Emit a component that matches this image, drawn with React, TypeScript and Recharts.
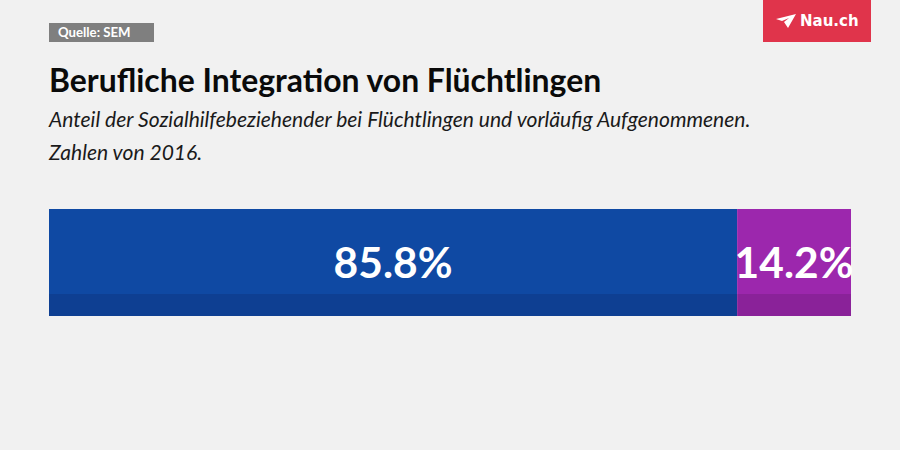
import { Bar, BarChart, LabelList, XAxis, YAxis } from 'recharts';

const categories = ['Sozialhilfe'];
const blueShare = [85.8];
const purpleShare = [14.2];

const data = categories.map((name, i) => ({ name, blue: blueShare[i], purple: purpleShare[i] }));
const fmt = (v: any) => `${v}%`;
const labelStyle = { fontFamily: 'Lato', fontWeight: 700, fontSize: 42.5, fill: '#fff' };

export default function App() {
  return (
    <div style={{ position: 'absolute', left: 0, top: 0, width: 900, height: 450, background: '#f1f1f1', fontFamily: 'Lato', overflow: 'hidden' }}>
      <div style={{ position: 'absolute', left: 49, top: 23, width: 105, height: 19, background: '#7f7f7f', color: '#fff', fontSize: 13.2, fontWeight: 700, lineHeight: '19px', paddingLeft: 9, boxSizing: 'border-box' }}>
        Quelle: SEM
      </div>
      <div style={{ position: 'absolute', left: 49, top: 61, fontSize: 31.9, fontWeight: 700, color: '#0a0a0a', lineHeight: '38px', whiteSpace: 'nowrap' }}>
        Berufliche Integration von Flüchtlingen
      </div>
      <div style={{ position: 'absolute', left: 49, top: 102, fontSize: 21.06, fontStyle: 'italic', color: '#1a1a1a', lineHeight: '33px', whiteSpace: 'nowrap' }}>
        Anteil der Sozialhilfebeziehender bei Flüchtlingen und vorläufig Aufgenommenen.
        <br />
        Zahlen von 2016.
      </div>
      <div style={{ position: 'absolute', left: 763, top: 0, width: 108, height: 42, background: '#e0344b' }}>
        <svg width={20} height={14} style={{ position: 'absolute', left: 13, top: 14 }} viewBox="0 0 20 14">
          <path d="M0 5 L20 0 L12 14 L8 8 L13 4 L6 7 Z" fill="#fff" />
        </svg>
        <span style={{ position: 'absolute', left: 37, top: 11, fontFamily: 'DejaVu Sans', fontWeight: 700, fontSize: 15, lineHeight: '20px', color: '#fff' }}>Nau.ch</span>
      </div>
      <BarChart
        width={900}
        height={450}
        data={data}
        layout="vertical"
        barCategoryGap={0}
        margin={{ left: 49, right: 49, top: 209, bottom: 134 }}
        style={{ position: 'absolute', left: 0, top: 0 }}
      >
        <defs>
          <linearGradient id="blueFill" x1="0" y1="0" x2="0" y2="1">
            <stop offset="0.794" stopColor="#0f49a3" />
            <stop offset="0.794" stopColor="#0e3f92" />
          </linearGradient>
          <linearGradient id="purpleFill" x1="0" y1="0" x2="0" y2="1">
            <stop offset="0.794" stopColor="#9c27ad" />
            <stop offset="0.794" stopColor="#8a2299" />
          </linearGradient>
        </defs>
        <XAxis type="number" domain={[0, 100]} hide />
        <YAxis type="category" dataKey="name" hide />
        <Bar dataKey="blue" stackId="a" fill="url(#blueFill)" isAnimationActive={false}>
          <LabelList dataKey="blue" position="center" formatter={fmt} style={labelStyle} />
        </Bar>
        <Bar dataKey="purple" stackId="a" fill="url(#purpleFill)" isAnimationActive={false}>
          <LabelList dataKey="purple" position="center" formatter={fmt} style={labelStyle} />
        </Bar>
      </BarChart>
    </div>
  );
}
